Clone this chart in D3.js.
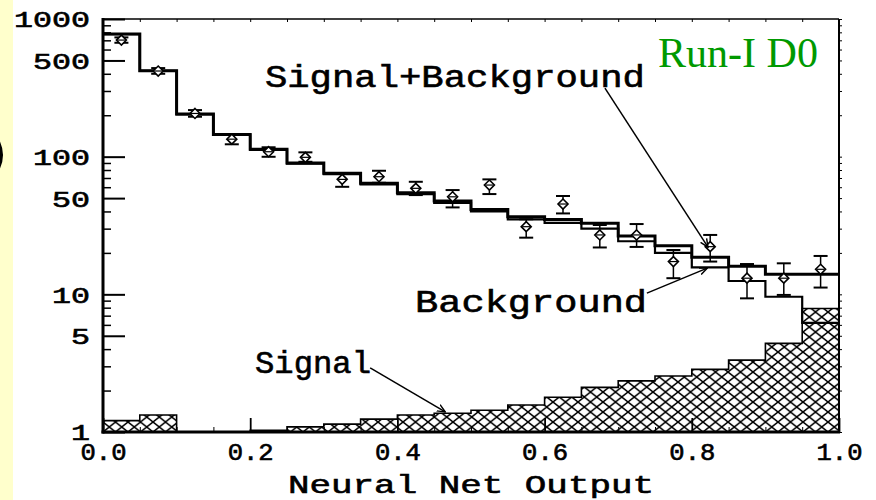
<!DOCTYPE html>
<html>
<head>
<meta charset="utf-8">
<script src="https://cdn.jsdelivr.net/npm/d3@7"></script>
<style>
  html, body { margin: 0; padding: 0; background: #ffffff; }
  svg { display: block; }
</style>
</head>
<body>
<svg id="chart" width="876" height="500"></svg>
<script>
// Neural-net output bins (width 0.05)
const binEdges = [0.00, 0.05, 0.10, 0.15, 0.20, 0.25, 0.30, 0.35, 0.40, 0.45,
                  0.50, 0.55, 0.60, 0.65, 0.70, 0.75, 0.80, 0.85, 0.90, 0.95, 1.00];
const binCenters = [0.025, 0.075, 0.125, 0.175, 0.225, 0.275, 0.325, 0.375, 0.425, 0.475,
                    0.525, 0.575, 0.625, 0.675, 0.725, 0.775, 0.825, 0.875, 0.925, 0.975];

// Expected events per bin
const sigPlusBkg = [777, 421, 204, 145, 113, 90, 75.7, 64, 54.7, 47.6,
                    41.4, 36.6, 35, 32.8, 26.5, 22.5, 18.6, 16, 14, 14];
const background = [776, 420, 203, 144, 112, 89, 74.5, 62.8, 53.4, 46.2,
                    40, 35, 33, 30, 24.3, 20, 15.7, 12.5, 9.6, 6.2];
const signal     = [1.21, 1.33, 1.0, 1.0, 1.03, 1.09, 1.14, 1.24, 1.33, 1.37,
                    1.44, 1.57, 1.79, 2.11, 2.35, 2.55, 2.85, 3.33, 4.4, 7.9];

// Observed data with error-bar limits
const dataVal  = [703, 419, 206, 134, 108.6, 98.9, 68.4, 71.5, 58.9, 51.1,
                  62.2, 31, 45.3, 27, 27, 17.3, 22.2, 13.1, 13.1, 15.2];
const dataHigh = [735, 440, 218, 146, 117, 107.5, 75.7, 79, 65.7, 57.2,
                  68.4, 35.1, 51.8, 31.9, 32.4, 21, 27, 16.6, 16.8, 19];
const dataLow  = [672, 400, 195, 123, 99.8, 91.8, 60.4, 64.6, 52.6, 42.8,
                  53.5, 25.8, 38.7, 21.9, 22.1, 13.1, 17.3, 9.35, 9.9, 11.2];

// Axis ticks
const xTickValues = [0.0, 0.2, 0.4, 0.6, 0.8, 1.0];
const xTickLabels = ["0.0", "0.2", "0.4", "0.6", "0.8", "1.0"];
const xMinorTicks = [0.05, 0.1, 0.15, 0.25, 0.3, 0.35, 0.45, 0.5, 0.55, 0.65, 0.7, 0.75, 0.85, 0.9, 0.95];
const yTickValues = [1, 5, 10, 50, 100, 500, 1000];
const yTickLabels = ["1", "5", "10", "50", "100", "500", "1000"];
const yMinorTicks = [2, 3, 4, 6, 7, 8, 9, 20, 30, 40, 60, 70, 80, 90, 200, 300, 400, 600, 700, 800, 900];

// Annotations (data coordinates)
const labelTexts = [
  { text: "Signal+Background", x: 0.220, y: 320, width: 380 },
  { text: "Background",        x: 0.424, y: 7.44, width: 232 },
  { text: "Signal",            x: 0.2065, y: 2.68, width: 116 }
];
const arrows = [
  { x1: 0.682, y1: 315,  x2: 0.822, y2: 22 },
  { x1: 0.739, y1: 10.2, x2: 0.821, y2: 15.5 },
  { x1: 0.363, y1: 2.92, x2: 0.465, y2: 1.40 }
];
const experimentTag = { text: "Run-I D0", x: 0.754, y: 448 };

const svg = d3.select("#chart");
const W = 876, H = 500;
const plot = { left: 103, right: 839, top: 19, bottom: 432 };

const x = d3.scaleLinear().domain([0, 1]).range([plot.left, plot.right]);
const y = d3.scaleLog().domain([1, 1000]).range([plot.bottom, plot.top]);

const monoFont = "'Liberation Mono', 'DejaVu Sans Mono', monospace";

// Applies the typewriter-style lettering used for all black text
function typeface(sel, size) {
  sel.attr("font-family", monoFont).attr("font-weight", "normal")
    .attr("font-size", size).attr("fill", "#000")
    .attr("stroke", "#000").attr("stroke-width", 0.6)
    .attr("lengthAdjust", "spacingAndGlyphs");
}

// Page background and side strip
svg.append("rect").attr("width", W).attr("height", H).attr("fill", "#ffffff");
svg.append("rect").attr("x", 0).attr("y", 0).attr("width", 13).attr("height", H).attr("fill", "#ffffcc");
svg.append("path")
  .attr("d", "M -4 137 Q 7 155 -4 173")
  .attr("fill", "none").attr("stroke", "#000").attr("stroke-width", 3);

// Cross-hatch pattern for the signal histogram
const defs = svg.append("defs");
const pat = defs.append("pattern")
  .attr("id", "xhatch").attr("patternUnits", "userSpaceOnUse")
  .attr("x", plot.left).attr("y", plot.bottom)
  .attr("width", 12.5).attr("height", 10);
pat.append("rect").attr("width", 12.5).attr("height", 10).attr("fill", "#fff");
pat.append("path")
  .attr("d", "M0,0 L12.5,10 M12.5,0 L0,10")
  .attr("stroke", "#000").attr("stroke-width", 1.5).attr("fill", "none");

defs.append("marker")
  .attr("id", "arrowhead").attr("viewBox", "0 0 10 10")
  .attr("refX", 9).attr("refY", 5)
  .attr("markerWidth", 9).attr("markerHeight", 9)
  .attr("markerUnits", "userSpaceOnUse")
  .attr("orient", "auto")
  .append("path")
  .attr("d", "M0,1 L9,5 L0,9")
  .attr("fill", "none").attr("stroke", "#000").attr("stroke-width", 1.6);

// Step points for histograms: one point per bin edge, last value repeated
function stepPoints(values) {
  const pts = binEdges.slice(0, -1).map((e, i) => [e, values[i]]);
  pts.push([binEdges[binEdges.length - 1], values[values.length - 1]]);
  return pts;
}

// Signal histogram (hatched)
const sigArea = d3.area()
  .curve(d3.curveStepAfter)
  .x(d => x(d[0]))
  .y0(y(1))
  .y1(d => y(d[1]));
svg.append("path")
  .datum(stepPoints(signal))
  .attr("d", sigArea)
  .attr("fill", "url(#xhatch)")
  .attr("stroke", "#000").attr("stroke-width", 1.6);

const stepLine = d3.line()
  .curve(d3.curveStepAfter)
  .x(d => x(d[0]))
  .y(d => y(d[1]));

// Background histogram
svg.append("path")
  .datum(stepPoints(background))
  .attr("d", stepLine)
  .attr("fill", "none").attr("stroke", "#000").attr("stroke-width", 2.2);

// Signal + background histogram
svg.append("path")
  .datum(stepPoints(sigPlusBkg))
  .attr("d", stepLine)
  .attr("fill", "none").attr("stroke", "#000").attr("stroke-width", 3);

// Data points with error bars
const pts = svg.append("g").selectAll("g")
  .data(binCenters.map((c, i) => ({ c, v: dataVal[i], hi: dataHigh[i], lo: dataLow[i] })))
  .join("g");
pts.append("line")
  .attr("x1", d => x(d.c)).attr("x2", d => x(d.c))
  .attr("y1", d => y(d.hi)).attr("y2", d => y(d.lo))
  .attr("stroke", "#000").attr("stroke-width", 1.5);
pts.append("line")
  .attr("x1", d => x(d.c) - 7).attr("x2", d => x(d.c) + 7)
  .attr("y1", d => y(d.hi)).attr("y2", d => y(d.hi))
  .attr("stroke", "#000").attr("stroke-width", 2);
pts.append("line")
  .attr("x1", d => x(d.c) - 7).attr("x2", d => x(d.c) + 7)
  .attr("y1", d => y(d.lo)).attr("y2", d => y(d.lo))
  .attr("stroke", "#000").attr("stroke-width", 2);
pts.append("path")
  .attr("d", d => {
    const cx = x(d.c), cy = y(d.v);
    return `M${cx},${cy - 5}L${cx + 5},${cy}L${cx},${cy + 5}L${cx - 5},${cy}Z`;
  })
  .attr("fill", "#fff").attr("stroke", "#000").attr("stroke-width", 1.6);
pts.append("line")
  .attr("x1", d => x(d.c) - 4).attr("x2", d => x(d.c) + 4)
  .attr("y1", d => y(d.v)).attr("y2", d => y(d.v))
  .attr("stroke", "#000").attr("stroke-width", 1.2);

// Frame
svg.append("line").attr("x1", plot.left).attr("x2", plot.right)
  .attr("y1", plot.top).attr("y2", plot.top).attr("stroke", "#000").attr("stroke-width", 1.5);
svg.append("line").attr("x1", plot.right).attr("x2", plot.right)
  .attr("y1", plot.top).attr("y2", plot.bottom).attr("stroke", "#000").attr("stroke-width", 2);

// Left axis: major ticks with labels, minor ticks without
const yAxisG = svg.append("g").attr("transform", `translate(${plot.left},0)`);
yAxisG.call(d3.axisLeft(y).tickValues(yTickValues)
  .tickFormat((d, i) => yTickLabels[i])
  .tickSizeInner(-22).tickSizeOuter(0).tickPadding(13));
yAxisG.select(".domain").remove();
yAxisG.selectAll(".tick line").attr("stroke", "#000").attr("stroke-width", 2);
yAxisG.selectAll(".tick text")
  .call(typeface, 22)
  .attr("dy", "0.36em")
  .attr("textLength", (d, i) => yTickLabels[i].length * 19);

const yMinorG = svg.append("g").attr("transform", `translate(${plot.left},0)`);
yMinorG.call(d3.axisLeft(y).tickValues(yMinorTicks).tickFormat("").tickSizeInner(-8).tickSizeOuter(0));
yMinorG.select(".domain").remove();
yMinorG.selectAll(".tick line").attr("stroke-width", 1.5);

// Right-side small ticks
const yRightG = svg.append("g").attr("transform", `translate(${plot.right},0)`);
yRightG.call(d3.axisRight(y).tickValues(yTickValues.concat(yMinorTicks)).tickFormat("").tickSizeInner(3).tickSizeOuter(0));
yRightG.select(".domain").remove();
yRightG.selectAll(".tick line").attr("stroke-width", 1);

// Bottom axis
const xAxisG = svg.append("g").attr("transform", `translate(0,${plot.bottom})`);
xAxisG.call(d3.axisBottom(x).tickValues(xTickValues)
  .tickFormat((d, i) => xTickLabels[i])
  .tickSizeInner(-14).tickSizeOuter(0).tickPadding(0));
xAxisG.select(".domain").remove();
xAxisG.selectAll(".tick line").attr("stroke", "#000").attr("stroke-width", 1.8);
xAxisG.selectAll(".tick text")
  .call(typeface, 23)
  .attr("y", 28).attr("dy", null)
  .attr("textLength", 46);

const xMinorG = svg.append("g").attr("transform", `translate(0,${plot.bottom})`);
xMinorG.call(d3.axisBottom(x).tickValues(xMinorTicks).tickFormat("").tickSizeInner(-5).tickSizeOuter(0));
xMinorG.select(".domain").remove();

const xTopG = svg.append("g").attr("transform", `translate(0,${plot.top})`);
xTopG.call(d3.axisTop(x).tickValues(xMinorTicks.concat(xTickValues)).tickFormat("").tickSizeInner(-3).tickSizeOuter(0));
xTopG.select(".domain").remove();

// Axis lines
svg.append("line").attr("x1", plot.left).attr("x2", plot.left)
  .attr("y1", plot.top - 1).attr("y2", plot.bottom + 1.5).attr("stroke", "#000").attr("stroke-width", 3);
svg.append("line").attr("x1", plot.left - 1.5).attr("x2", plot.right + 1)
  .attr("y1", plot.bottom).attr("y2", plot.bottom).attr("stroke", "#000").attr("stroke-width", 3);

// Axis title
svg.append("text")
  .attr("x", 288).attr("y", 493)
  .call(typeface, 26)
  .attr("textLength", 366)
  .text("Neural Net Output");

// Curve labels and arrows
svg.append("g").selectAll("text")
  .data(labelTexts)
  .join("text")
  .attr("x", d => x(d.x)).attr("y", d => y(d.y))
  .call(typeface, 31)
  .attr("textLength", d => d.width)
  .text(d => d.text);

svg.append("g").selectAll("line")
  .data(arrows)
  .join("line")
  .attr("x1", d => x(d.x1)).attr("y1", d => y(d.y1))
  .attr("x2", d => x(d.x2)).attr("y2", d => y(d.y2))
  .attr("stroke", "#000").attr("stroke-width", 1.5)
  .attr("marker-end", "url(#arrowhead)");

// Experiment tag
svg.append("text")
  .attr("x", x(experimentTag.x)).attr("y", y(experimentTag.y))
  .attr("font-family", "'Liberation Serif', 'Times New Roman', serif")
  .attr("font-size", 42).attr("fill", "#009900")
  .attr("textLength", 160).attr("lengthAdjust", "spacingAndGlyphs")
  .text(experimentTag.text);
</script>
</body>
</html>
